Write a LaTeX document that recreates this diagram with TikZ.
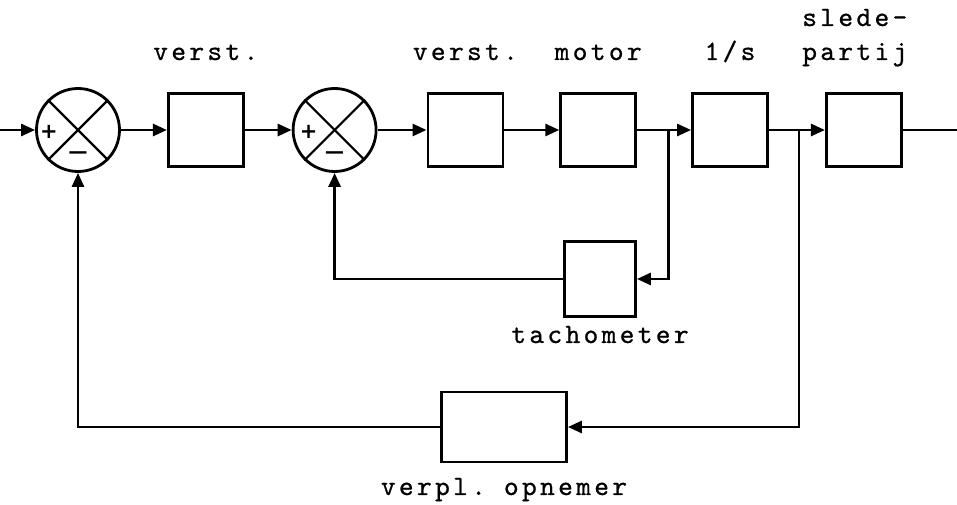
\documentclass[tikz,border=0pt]{standalone}
\usepackage{fontspec}
\setmonofont[LetterSpace=12,FakeBold=0.8]{lmmono10-regular.otf}
\newfontfamily\signfont{DejaVu Sans}
\usepackage{tikz}
\usetikzlibrary{arrows.meta,positioning,calc}

\begin{document}
\begin{tikzpicture}[
  x=1pt, y=1pt,
  font=\ttfamily\fontsize{28}{34}\selectfont,
  line width=2.8pt,
  blk/.style={draw, minimum width=75pt, minimum height=73pt, inner sep=0pt},
  sum/.style={draw, circle, minimum size=83pt, inner sep=0pt},
  sgn/.style={inner sep=0pt, font=\signfont\bfseries\fontsize{21}{21}\selectfont},
  arr/.style={-{Triangle[length=14pt,width=12pt]}},
  lbl/.style={anchor=base, inner sep=0pt, align=center}
]
\useasboundingbox (0,0) rectangle (957,505);
\node[sum] (s1) at (78,375) {};
\node[blk, right=46pt of s1] (b1) {};
\node[sum, right=47pt of b1] (s2) {};
\node[blk, right=49pt of s2] (b2) {};
\node[blk, right=55pt of b2] (b3) {};
\node[blk, right=54pt of b3] (b4) {};
\node[blk, right=56pt of b4] (b5) {};
\node[blk, minimum width=71pt, minimum height=75pt] (tacho) at (600,226) {};
\node[blk, minimum width=125pt, minimum height=70pt] (opn) at (504,78) {};
\foreach \s in {s1,s2} {
  \draw[line width=2.2pt] (\s.north west) -- (\s.south east);
  \draw[line width=2.2pt] (\s.north east) -- (\s.south west);
}
\node[sgn] (p1) at ([xshift=-29pt,yshift=-2pt]s1.center) {+};
\node[sgn] (m1) at ([yshift=-26pt]s1.center) {\scalebox{1.3}[1]{−}};
\node[sgn] (p2) at ([xshift=-26pt,yshift=-2pt]s2.center) {+};
\node[sgn] (m2) at ([yshift=-26pt]s2.center) {\scalebox{1.3}[1]{−}};
\coordinate (top) at (0,445);
\node[lbl] (l1) at (b1 |- top) {verst.};
\node[lbl] (l2) at (b2 |- top) {verst.};
\node[lbl] (l3) at (b3 |- top) {motor};
\node[lbl] (l4) at (b4 |- top) {1/s};
\node[lbl, xshift=-9pt] (l5) at (b5 |- top) {slede-\\partij};
\node[lbl] (l6) at ([yshift=-64pt]tacho.center) {tachometer};
\node[lbl] (l7) at ([yshift=-68pt]opn.center) {verpl. opnemer};
\coordinate (in) at (0,375);
\coordinate (out) at (957,375);
\coordinate (k1) at ([xshift=31pt]b3.east);
\coordinate (k2) at ([xshift=30pt]b4.east);
\draw[arr] (in) -- (s1);
\draw[arr] (s1) -- (b1);
\draw[arr] (b1) -- (s2);
\draw[arr] (s2) -- (b2);
\draw[arr] (b2) -- (b3);
\draw[arr] (b3) -- (b4);
\draw[arr] (b4) -- (b5);
\draw (b5) -- (out);
\draw[arr] (k1) |- (tacho.east);
\draw[arr] (tacho.west) -| (s2.south);
\draw[arr] (k2) |- (opn.east);
\draw[arr] (opn.west) -| (s1.south);
\end{tikzpicture}
\end{document}
